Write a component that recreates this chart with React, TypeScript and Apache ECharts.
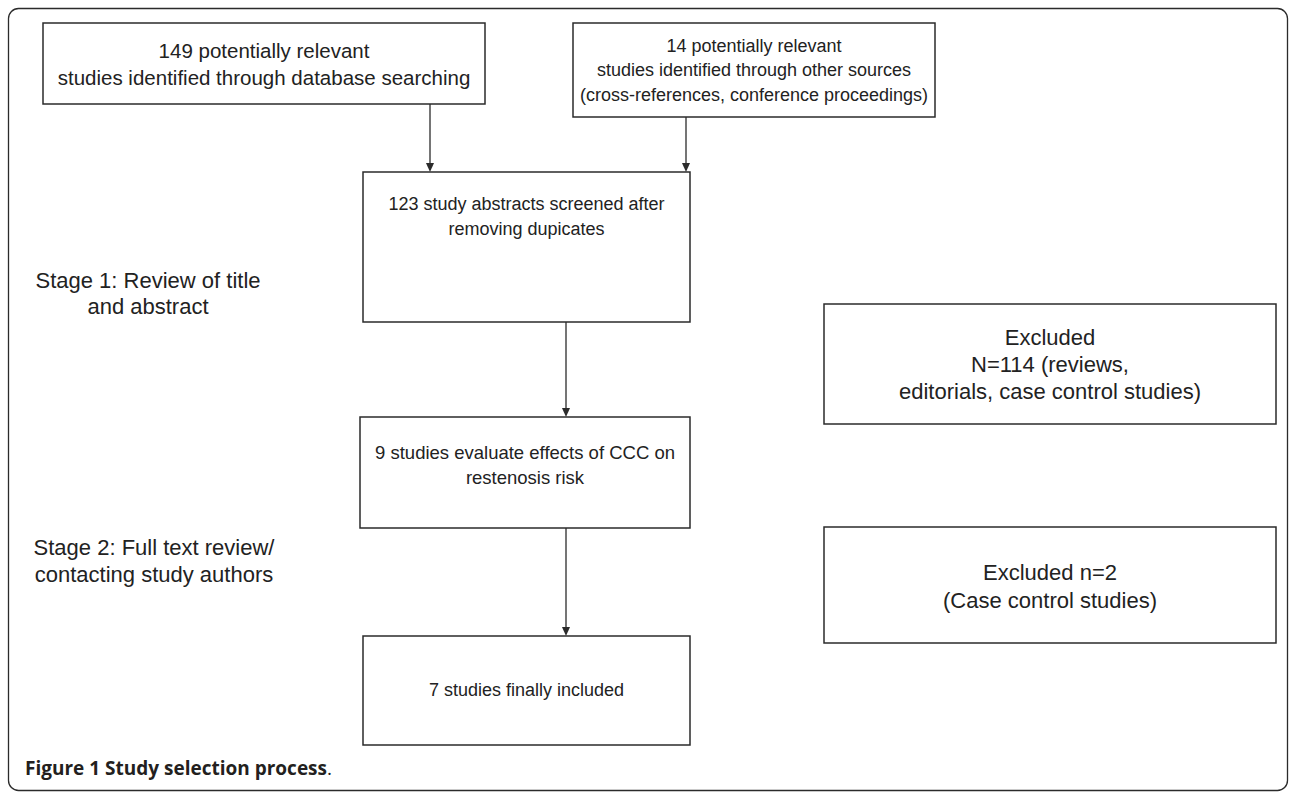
import React, { useEffect, useRef } from "react";
import * as echarts from "echarts";

// Flowchart content
const sourceTexts = [
  "149 potentially relevant\nstudies identified through database searching",
  "14 potentially relevant\nstudies identified through other sources\n(cross-references, conference proceedings)",
];
const mainTexts = [
  "123 study abstracts screened after\nremoving dupicates",
  "9 studies evaluate effects of CCC on\nrestenosis risk",
  "7 studies finally included",
];
const excludedTexts = [
  "Excluded\nN=114 (reviews,\neditorials, case control studies)",
  "Excluded n=2\n(Case control studies)",
];
const stageTexts = [
  "Stage 1: Review of title\nand abstract",
  "Stage 2: Full text review/\ncontacting study authors",
];
const captionBold = "Figure 1 Study selection process";
const captionEnd = ".";

// layout (positions only)
const LINE = "#2b2b2b";
const TEXT = "#222222";
const FONT = "Liberation Sans";

const srcBoxes = [
  { x: 43, y: 23, w: 442, h: 81, ty: 63.5, fs: 20.5, lh: 27 },
  { x: 573, y: 23, w: 362, h: 94, ty: 70, fs: 18, lh: 24.5 },
];
const mainBoxes = [
  { x: 363, y: 172, w: 327, h: 150, ty: 216.5, fs: 18, lh: 25 },
  { x: 360, y: 417, w: 330, h: 111, ty: 464.5, fs: 18.5, lh: 25 },
  { x: 363, y: 636, w: 327, h: 109, ty: 690, fs: 18, lh: 25 },
];
const exBoxes = [
  { x: 824, y: 304, w: 452, h: 120, ty: 364, fs: 22, lh: 27 },
  { x: 824, y: 527, w: 452, h: 116, ty: 586, fs: 22, lh: 28 },
];
const stagePos = [
  { x: 148, y: 293, lh: 26 },
  { x: 154, y: 561, lh: 27 },
];
const arrows = [
  { x: 430, y1: 104, y2: 172 },
  { x: 686, y1: 117, y2: 172 },
  { x: 566, y1: 322, y2: 417 },
  { x: 566, y1: 528, y2: 636 },
];

function box(b: any, text: string) {
  return [
    {
      type: "rect",
      shape: { x: b.x, y: b.y, width: b.w, height: b.h },
      style: { fill: "#fff", stroke: LINE, lineWidth: 1.5 },
    },
    {
      type: "text",
      x: b.x + b.w / 2,
      y: b.ty,
      style: {
        text,
        fill: TEXT,
        fontFamily: FONT,
        fontSize: b.fs,
        lineHeight: b.lh,
        align: "center",
        verticalAlign: "middle",
      },
    },
  ];
}

function arrow(a: any) {
  const ah = 9;
  const aw = 4;
  return [
    {
      type: "line",
      shape: { x1: a.x, y1: a.y1, x2: a.x, y2: a.y2 - ah + 1 },
      style: { stroke: LINE, lineWidth: 1.3 },
    },
    {
      type: "polygon",
      shape: {
        points: [
          [a.x - aw, a.y2 - ah],
          [a.x + aw, a.y2 - ah],
          [a.x, a.y2],
        ],
      },
      style: { fill: LINE },
    },
  ];
}

export default function App() {
  const ref = useRef<HTMLDivElement>(null);
  useEffect(() => {
    if (!ref.current) return;
    const chart = echarts.init(ref.current, undefined, { renderer: "svg" });
    const elements: any[] = [];
    elements.push({
      type: "rect",
      shape: { x: 8.5, y: 8.5, width: 1279, height: 782, r: 10 },
      style: { fill: "#fff", stroke: LINE, lineWidth: 1.3 },
    });
    srcBoxes.forEach((b, i) => elements.push(...box(b, sourceTexts[i])));
    mainBoxes.forEach((b, i) => elements.push(...box(b, mainTexts[i])));
    exBoxes.forEach((b, i) => elements.push(...box(b, excludedTexts[i])));
    arrows.forEach((a) => elements.push(...arrow(a)));
    stagePos.forEach((p, i) =>
      elements.push({
        type: "text",
        x: p.x,
        y: p.y,
        style: {
          text: stageTexts[i],
          fill: TEXT,
          fontFamily: FONT,
          fontSize: 22,
          lineHeight: p.lh,
          align: "center",
          verticalAlign: "middle",
        },
      })
    );
    elements.push({
      type: "text",
      x: 25,
      y: 768,
      style: {
        text: `{b|${captionBold}}{n|${captionEnd}}`,
        verticalAlign: "middle",
        align: "left",
        rich: {
          b: { fontFamily: "Open Sans", fontWeight: "bold", fontSize: 19, fill: "#231f20" },
          n: { fontFamily: "Open Sans", fontWeight: "normal", fontSize: 19, fill: "#231f20" },
        },
      },
    });
    chart.setOption({
      animation: false,
      backgroundColor: "#fff",
      graphic: { elements },
    });
    return () => chart.dispose();
  }, []);
  return (
    <div
      ref={ref}
      style={{ position: "fixed", left: 0, top: 0, width: 1290, height: 792 }}
    />
  );
}
